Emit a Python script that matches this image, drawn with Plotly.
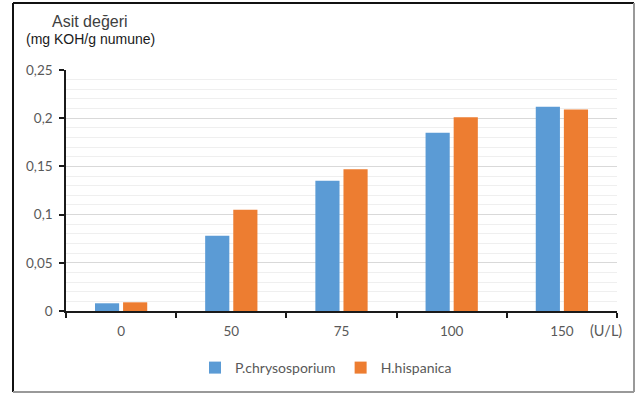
import plotly.graph_objects as go

# Enzyme dose categories (U/L) and acid values (mg KOH/g sample)
doses = ["0", "50", "75", "100", "150"]
p_chrysosporium = [0.008, 0.078, 0.135, 0.185, 0.212]
h_hispanica = [0.009, 0.105, 0.147, 0.201, 0.209]

BLUE = "#5B9BD5"
ORANGE = "#ED7D31"
TEXT = "#595959"

W, H = 639, 396
M_L, M_R, M_T, M_B = 66, 22, 70, 85
PW, PH = W - M_L - M_R, H - M_T - M_B


def px_x(x):
    return (x - M_L) / PW


def px_y(y):
    return (H - M_B - y) / PH


fig = go.Figure()
fig.add_trace(go.Bar(x=doses, y=p_chrysosporium, name="P.chrysosporium",
                     marker=dict(color=BLUE, line=dict(width=0))))
fig.add_trace(go.Bar(x=doses, y=h_hispanica, name="H.hispanica",
                     marker=dict(color=ORANGE, line=dict(width=0))))

fig.update_layout(
    width=W, height=H,
    margin=dict(l=M_L, r=M_R, t=M_T, b=M_B),
    paper_bgcolor="white", plot_bgcolor="white",
    barmode="group", bargap=0.49, bargroupgap=0.14,
    separators=",.",
    font=dict(family="Lato, Open Sans, sans-serif", size=13, color=TEXT),
    showlegend=True,
    legend=dict(orientation="h", x=px_x(326), y=px_y(368), xanchor="center",
                yanchor="middle", font=dict(size=14, color=TEXT),
                itemwidth=30, tracegroupgap=0),
)

fig.update_xaxes(
    type="category", showline=True, linecolor="#1a1a1a", linewidth=1.5,
    ticks="outside", tickson="boundaries", ticklen=5, tickcolor="#1a1a1a",
    tickwidth=1.5, showgrid=False, tickfont=dict(size=13.5, color=TEXT),
    ticklabelstandoff=7,
)
fig.update_yaxes(
    range=[0, 0.25], dtick=0.05, tickformat="",
    showline=True, linecolor="#1a1a1a", linewidth=1.5,
    ticks="outside", ticklen=5, tickcolor="#1a1a1a", tickwidth=1.5,
    showgrid=True, gridcolor="#d9d9d9", gridwidth=1,
    zeroline=False,
    minor=dict(dtick=0.01, showgrid=True, gridcolor="#efefef", gridwidth=1,
               ticks=""),
    tickfont=dict(size=13.5, color=TEXT),
    ticklabelstandoff=4,
)

# Axis titles
fig.add_annotation(text="Asit değeri", xref="paper", yref="paper",
                   x=px_x(90), y=px_y(21), xanchor="center", yanchor="middle",
                   showarrow=False,
                   font=dict(family="Liberation Sans, Arial", size=16, color="#404040"))
fig.add_annotation(text="(mg KOH/g numune)", xref="paper", yref="paper",
                   x=px_x(90), y=px_y(39), xanchor="center", yanchor="middle",
                   showarrow=False,
                   font=dict(family="Liberation Sans, Arial", size=14, color="#1a1a1a"))
fig.add_annotation(text="(U/L)", xref="paper", yref="paper",
                   x=px_x(606), y=px_y(330), xanchor="center", yanchor="middle",
                   showarrow=False, font=dict(size=14.5, color=TEXT))

# Outer frame: dark left/top edges, grey right/bottom edges
x0, x1 = px_x(13), px_x(634)
y0, y1 = px_y(392), px_y(3)
fig.add_shape(type="line", xref="paper", yref="paper", x0=x0, x1=x0, y0=y0, y1=y1,
              line=dict(color="#111111", width=2))
fig.add_shape(type="line", xref="paper", yref="paper", x0=x0, x1=x1, y0=y1, y1=y1,
              line=dict(color="#111111", width=2))
fig.add_shape(type="line", xref="paper", yref="paper", x0=x1, x1=x1, y0=y0, y1=y1,
              line=dict(color="#999999", width=2))
fig.add_shape(type="line", xref="paper", yref="paper", x0=x0, x1=x1, y0=y0, y1=y0,
              line=dict(color="#999999", width=2))

fig.write_html("out.html")
